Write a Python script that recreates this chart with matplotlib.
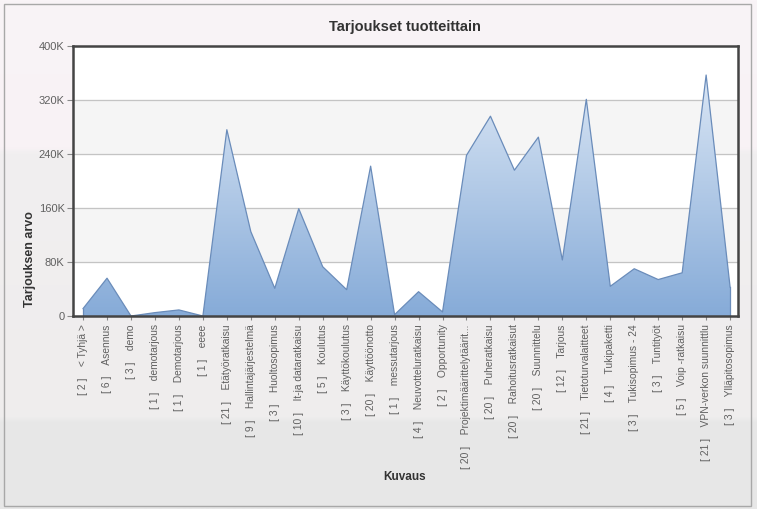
import matplotlib
matplotlib.use('Agg')
import matplotlib.pyplot as plt
import numpy as np
from matplotlib.colors import LinearSegmentedColormap
from matplotlib.patches import Rectangle
from matplotlib.ticker import FuncFormatter

plt.rcParams['font.family'] = ['Liberation Sans', 'DejaVu Sans']

# data
counts = [2, 6, 3, 1, 1, 1, 21, 9, 3, 10, 5, 3, 20, 1,
          4, 2, 20, 20, 20, 20, 12, 21, 4, 3, 3, 5, 21, 3]
products = ['< Tyhjä >', 'Asennus', 'demo', 'demotarjous', 'Demotarjous', 'eeee',
            'Etätyöratkaisu', 'Hallintajärjestelmä', 'Huoltosopimus', 'It-ja dataratkaisu',
            'Koulutus', 'Käyttökoulutus', 'Käyttöönotto', 'messutarjous',
            'Neuvotteluratkaisu', 'Opportunity', 'Projektimäärittelytäärit...',
            'Puheratkaisu', 'Rahoitusratkaisut', 'Suunnittelu', 'Tarjous',
            'Tietoturvalaitteet', 'Tukipaketti', 'Tukisopimus - 24', 'Tuntityöt',
            'Voip -ratkaisu', 'VPN-verkon suunnittlu', 'Ylläpitosopimus']
values = [11000, 56000, 0, 5000, 9000, 0, 276000, 125000, 41000, 159000,
          73000, 39000, 222000, 2000, 36000, 6000, 238000, 296000, 216000,
          265000, 83000, 321000, 44000, 70000, 54000, 64000, 357000, 43000]

labels = ['[ %d ]    %s' % (c, p) for c, p in zip(counts, products)]
x = np.arange(len(values))

fig = plt.figure(figsize=(7.57, 5.09), dpi=100)

# figure background bands
bg = fig.add_axes([0, 0, 1, 1], zorder=-10)
bg.set_axis_off()
grad = np.linspace(0, 1, 256).reshape(-1, 1)
bgcmap = LinearSegmentedColormap.from_list('bg', [(0, '#f9f4f7'), (0.29, '#f8f2f5'),
                                                  (0.30, '#f1eff0'), (0.82, '#efeded'),
                                                  (0.83, '#e8e8e8'), (1, '#e7e7e7')])
bg.imshow(grad, aspect='auto', cmap=bgcmap, extent=[0, 1, 0, 1], origin='upper')
bg.set_xlim(0, 1)
bg.set_ylim(0, 1)
bg.add_patch(Rectangle((4/757, 3/509), 747/757, 502/509, fill=False,
                       ec='#a8a8a8', lw=1))

ax = fig.add_axes([73/757, (509-316)/509, (738-73)/757, (316-46)/509])
ax.set_facecolor('white')

# alternating bands
for lo in (80000, 240000):
    ax.axhspan(lo, lo + 80000, color='#f5f5f5', zorder=0)
for yv in (80000, 160000, 240000, 320000):
    ax.axhline(yv, color='#c4c4c4', lw=0.9, zorder=1)

# gradient-filled area
poly = ax.fill_between(x, values, 0, facecolor='none', edgecolor='none')
cmap = LinearSegmentedColormap.from_list('area', ['#86abd8', '#e4edf8'])
img = ax.imshow(np.linspace(0, 1, 256).reshape(-1, 1), cmap=cmap, aspect='auto',
                origin='lower', extent=[x[0], x[-1], 0, 400000], zorder=2)
img.set_clip_path(poly.get_paths()[0], transform=ax.transData)
ax.plot(x, values, color='#6a8cba', lw=0.9, zorder=3)
ax.plot([x[0], x[0]], [0, values[0]], color='#6a8cba', lw=0.9, zorder=3)
ax.plot([x[-1], x[-1]], [0, values[-1]], color='#6a8cba', lw=0.9, zorder=3)

ax.set_xlim(-0.42, 27.33)
ax.set_ylim(0, 400000)
ax.set_yticks(np.arange(0, 400001, 80000))
ax.yaxis.set_major_formatter(FuncFormatter(lambda v, p: '0' if v == 0 else '%dK' % (v / 1000)))
ax.set_xticks(x)
ax.set_xticklabels(labels, rotation=90, fontsize=7.4, color='#606060')
ax.tick_params(axis='y', labelsize=8, labelcolor='#606060', color='#888888', length=4, pad=2)
ax.tick_params(axis='x', color='#888888', length=3, pad=3)

for s in ax.spines.values():
    s.set_color('#444444')
    s.set_linewidth(1.8)
    s.set_zorder(5)

fig.text(30/757, 1 - 259/509, 'Tarjouksen arvo', ha='center', va='center', rotation=90,
         fontsize=9, fontweight='bold', color='#333333')
fig.text(405/757, 1 - 477/509, 'Kuvaus', ha='center', va='center',
         fontsize=8.5, fontweight='bold', color='#333333')
fig.text(405/757, 1 - 27/509, 'Tarjoukset tuotteittain', ha='center', va='center',
         fontsize=10.5, fontweight='bold', color='#333333')

fig.savefig('out.png', dpi=100)
